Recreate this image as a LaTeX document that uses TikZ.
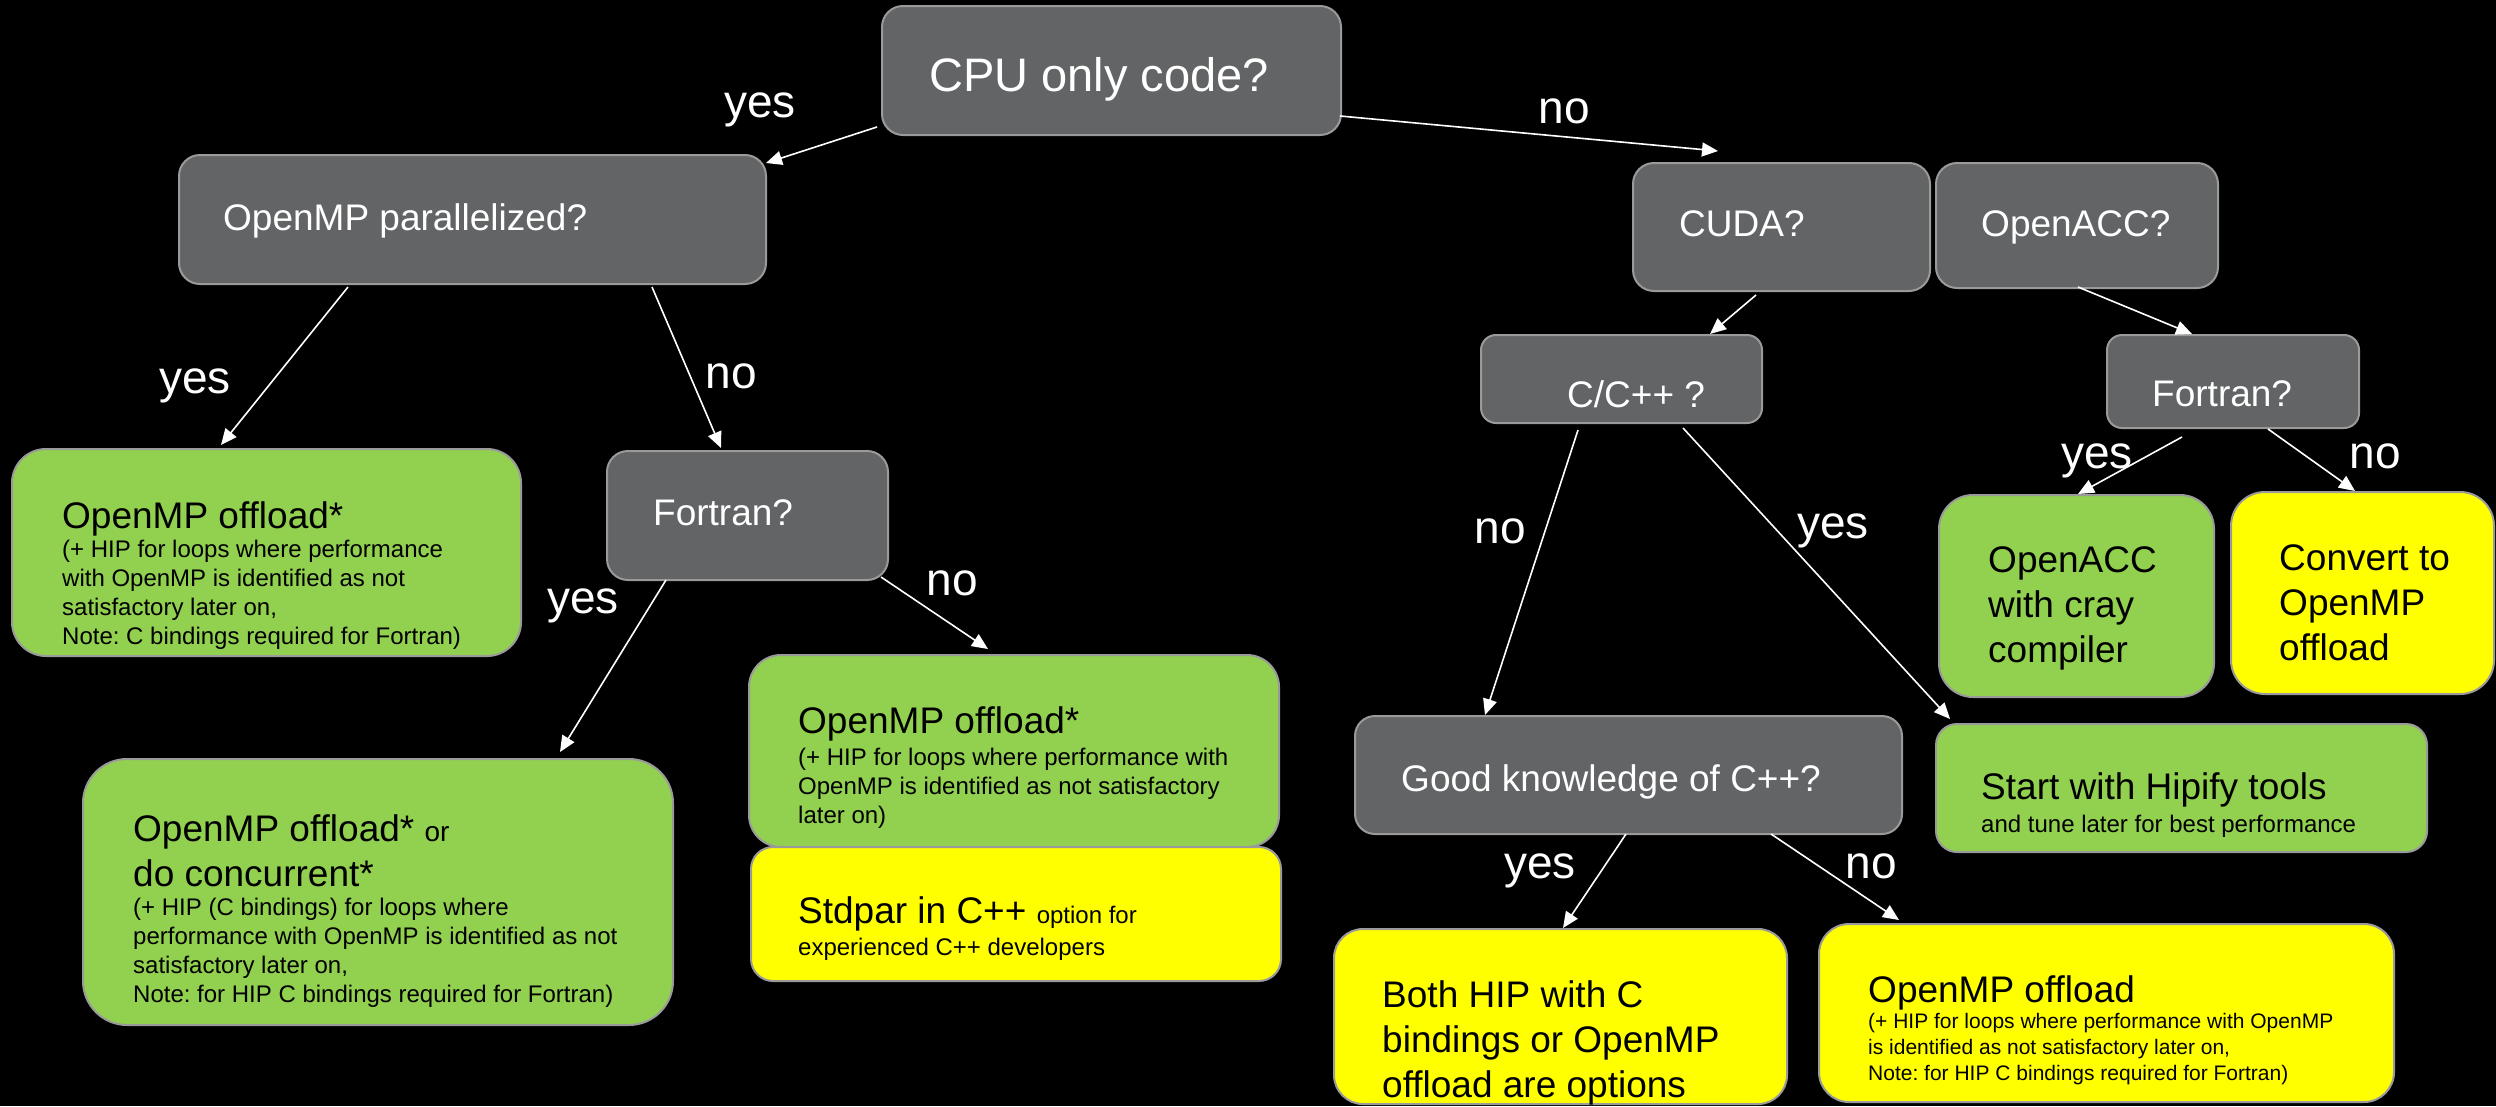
\documentclass[tikz,border=0pt]{standalone}
\usepackage{fontspec}
\setmainfont{Liberation Sans}
\usetikzlibrary{arrows.meta, calc}

\definecolor{qgray}{HTML}{636466}
\definecolor{edgegray}{HTML}{9A9A9A}
\definecolor{offgreen}{HTML}{92D050}
\definecolor{offyellow}{HTML}{FFFF00}

\newcommand{\lblf}{\fontsize{46}{55}\selectfont}
\newcommand{\medf}{\fontsize{37}{45}\selectfont}
\newcommand{\smlf}{\fontsize{24}{29}\selectfont}
\newcommand{\tnyf}{\fontsize{21}{26}\selectfont}
\frenchspacing

\begin{document}
\begin{tikzpicture}[x=1pt, y=-1pt,
    box/.style={draw=edgegray, line width=2pt, anchor=north west, inner sep=0pt, outer sep=0pt},
    qbox/.style={box, fill=qgray, rounded corners=21pt},
    gbox/.style={box, fill=offgreen},
    ybox/.style={box, fill=offyellow},
    txt/.style={anchor=north west, inner sep=0pt, text width=560pt, align=flush left, font=\medf},
    qtxt/.style={txt, text=white},
    lbl/.style={anchor=base, inner sep=0pt, text=white, font=\lblf},
    arr/.style={draw=white, line width=1.6pt, -{Triangle[length=16pt,width=14pt]}}]
    % Black slide
    \useasboundingbox (0,0) rectangle (2496,1106);
    \fill[black] (0,0) rectangle (2496,1106);

    % Question boxes
    \node[qbox, minimum width=459, minimum height=129] (cpu) at (882,6) {};
    \node[qbox, minimum width=587, minimum height=129] (omp) at (179,155) {};
    \node[qbox, minimum width=297, minimum height=128] (cuda) at (1633,163) {};
    \node[qbox, minimum width=282, minimum height=125] (openacc) at (1936,163) {};
    \node[qbox, minimum width=281, minimum height=88, rounded corners=15pt] (cpp) at (1481,335) {};
    \node[qbox, minimum width=252, minimum height=93, rounded corners=15pt] (ftnacc) at (2107,335) {};
    \node[qbox, minimum width=281, minimum height=129] (ftnomp) at (607,451) {};
    \node[qbox, minimum width=547, minimum height=118, rounded corners=20pt] (good) at (1355,716) {};

    \node[qtxt, font=\fontsize{47}{56}\selectfont] (t-cpu) at (929,57) {CPU only code?};
    \node[qtxt] (t-omp) at (223,203) {OpenMP parallelized?};
    \node[qtxt] (t-cuda) at (1679,210) {CUDA?};
    \node[qtxt] (t-openacc) at (1981,210) {OpenACC?};
    \node[qtxt] (t-cpp) at (1567,380) {C/C++ ?};
    \node[qtxt] (t-ftnacc) at (2152,380) {Fortran?};
    \node[qtxt] (t-ftnomp) at (653,499) {Fortran?};
    \node[qtxt] (t-good) at (1401,764) {Good knowledge of C++?};

    % Answer boxes
    \node[gbox, minimum width=509, minimum height=207, rounded corners=34pt] (offload) at (12,449) {};
    \node[gbox, minimum width=590, minimum height=266, rounded corners=44pt] (concurrent) at (83,759) {};
    \node[gbox, minimum width=530, minimum height=192, rounded corners=32pt] (offloadc) at (749,655) {};
    \node[ybox, minimum width=530, minimum height=134, rounded corners=22pt] (stdpar) at (751,847) {};
    \node[gbox, minimum width=275, minimum height=202, rounded corners=34pt] (cray) at (1939,495) {};
    \node[ybox, minimum width=263, minimum height=202, rounded corners=34pt] (convert) at (2231,492) {};
    \node[gbox, minimum width=491, minimum height=128, rounded corners=21pt] (hipify) at (1936,724) {};
    \node[ybox, minimum width=453, minimum height=175, rounded corners=29pt] (both) at (1334,929) {};
    \node[ybox, minimum width=575, minimum height=178, rounded corners=30pt] (offloadcpp) at (1819,924) {};

    \node[txt] (t-offload) at (62,501) {OpenMP offload*\par
        {\smlf (+ HIP for loops where performance\\ with OpenMP is identified as not\\ satisfactory later on,\\ Note: C bindings required for Fortran)\par}};
    \node[txt] (t-concurrent) at (133,814) {OpenMP offload* {\fontsize{28}{34}\selectfont or}\\ do concurrent*\par
        {\smlf (+ HIP (C bindings) for loops where\\ performance with OpenMP is identified as not\\ satisfactory later on,\\ Note: for HIP C bindings required for Fortran)\par}};
    \node[txt] (t-offloadc) at (798,706) {OpenMP offload*\par
        {\smlf\vspace{3pt}(+ HIP for loops where performance with\\ OpenMP is identified as not satisfactory\\ later on)\par}};
    \node[txt] (t-stdpar) at (798,896) {Stdpar in C++ {\smlf option for}\par
        {\smlf\vspace{3pt}experienced C++ developers\par}};
    \node[txt] (t-cray) at (1988,546) {OpenACC\\ with cray\\ compiler};
    \node[txt] (t-convert) at (2279,544) {Convert to\\ OpenMP\\ offload};
    \node[txt] (t-hipify) at (1981,772) {Start with Hipify tools\par
        {\smlf\vspace{4pt}and tune later for best performance\par}};
    \node[txt] (t-both) at (1382,980) {Both HIP with C\\ bindings or OpenMP\\ offload are options};
    \node[txt] (t-offloadcpp) at (1868,975) {OpenMP offload\par
        {\tnyf (+ HIP for loops where performance with OpenMP\\ is identified as not satisfactory later on,\\ Note: for HIP C bindings required for Fortran)\par}};

    % Connectors
    \draw[arr] ($(cpu.south west)+(-5,-8)$) -- ($(omp.north east)+(0,8)$);
    \draw[arr] ($(cpu.south east)+(-1,-19)$) -- ($(cuda.north west)+(85,-12)$);
    \draw[arr] ($(omp.south west)+(169,3)$) -- ($(offload.north west)+(209,-4)$);
    \draw[arr] ($(omp.south east)+(-114,3)$) -- ($(ftnomp.north west)+(114,-3)$);
    \draw[arr] ($(ftnomp.south west)+(59,0)$) -- ($(concurrent.north east)+(-113,-7)$);
    \draw[arr] ($(ftnomp.south east)+(-7,-3)$) -- ($(offloadc.north west)+(239,-6)$);
    \draw[arr] ($(cuda.south west)+(123,4)$) -- ($(cpp.north east)+(-52,-1)$);
    \draw[arr] ($(openacc.south west)+(142,-1)$) -- ($(ftnacc.north west)+(85,-1)$);
    \draw[arr] ($(cpp.south west)+(97,7)$) -- ($(good.north west)+(130,-1)$);
    \draw[arr] ($(cpp.south west)+(202,5)$) -- ($(hipify.north west)+(14,-5)$);
    \draw[arr] ($(ftnacc.south west)+(75,9)$) -- ($(cray.north west)+(139,-1)$);
    \draw[arr] ($(ftnacc.south west)+(161,1)$) -- ($(convert.north west)+(124,-1)$);
    \draw[arr] ($(good.south west)+(271,0)$) -- ($(both.north west)+(229,-1)$);
    \draw[arr] ($(good.south west)+(416,0)$) -- ($(offloadcpp.north west)+(80,-4)$);

    % yes / no labels
    \node[lbl] (yes-cpu) at (760,117) {yes};
    \node[lbl] (no-cpu) at (1564,123) {no};
    \node[lbl] (yes-omp) at (195,393) {yes};
    \node[lbl] (no-omp) at (731,388) {no};
    \node[lbl] (yes-ftnomp) at (583,613) {yes};
    \node[lbl] (no-ftnomp) at (952,595) {no};
    \node[lbl] (no-cpp) at (1500,543) {no};
    \node[lbl] (yes-cpp) at (1833,538) {yes};
    \node[lbl] (yes-ftnacc) at (2097,468) {yes};
    \node[lbl] (no-ftnacc) at (2375,468) {no};
    \node[lbl] (yes-good) at (1540,878) {yes};
    \node[lbl] (no-good) at (1871,878) {no};
\end{tikzpicture}
\end{document}
